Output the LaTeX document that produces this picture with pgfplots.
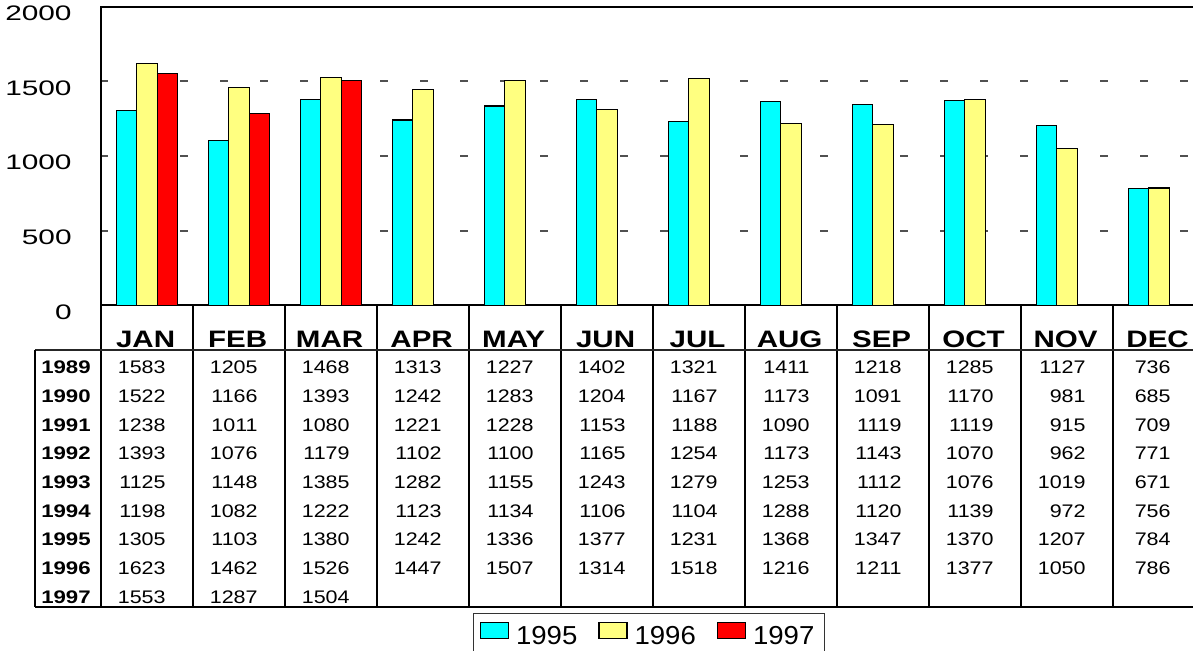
\documentclass[border=0pt]{standalone}
\usepackage{fontspec}
\setmainfont{Liberation Sans}
\usepackage{pgfplots}
\pgfplotsset{compat=1.18}
\newfontfamily\tickfamily[FakeStretch=1.42]{Liberation Sans}
\newfontfamily\monthfamily[FakeStretch=1.24]{Liberation Sans}
\newfontfamily\numfamily[FakeStretch=1.18]{Liberation Sans}
\newfontfamily\yearfamily[FakeStretch=1.22]{Liberation Sans}
\newfontfamily\legfamily[FakeStretch=1.06]{Liberation Sans}
\definecolor{cyanbar}{RGB}{0,255,255}
\definecolor{yelbar}{RGB}{255,255,128}
\definecolor{redbar}{RGB}{255,0,0}
\definecolor{gridc}{RGB}{80,80,80}
\pgfplotsset{mylegend/.style={legend image code/.code={\draw[##1, line width=0.6pt] (0pt,-1pt) rectangle (14pt,7pt);}}}
\begin{document}
\begin{tikzpicture}
\useasboundingbox (0,0) rectangle (596.5pt,325.5pt);
\clip (0,0) rectangle (596.5pt,325.5pt);
\begin{axis}[
 at={(50.5pt,172.85pt)}, anchor=south west,
 scale only axis, width=552pt, height=149.2pt,
 xmin=-0.5, xmax=11.5, ymin=0, ymax=2000,
 ybar=0pt, bar width=10.2pt,
 xtick={0,...,11},
 xticklabels={JAN,FEB,MAR,APR,MAY,JUN,JUL,AUG,SEP,OCT,NOV,DEC},
 xticklabel style={font=\monthfamily\bfseries\fontsize{11.9pt}{12pt}\selectfont, anchor=base, inner sep=0pt, yshift=-21.35pt, xshift=-0.7pt},
 ytick={0,500,1000,1500,2000},
 yticklabels={0,500,1000,1500,2000},
 yticklabel style={font=\tickfamily\fontsize{10.5pt}{11pt}\selectfont, anchor=east, inner sep=0pt, xshift=-14.5pt, yshift=-3.3pt},
 major tick length=0pt,
 tick style={draw=none},
 ymajorgrids,
 grid style={gridc, line width=1pt, dash pattern=on 4pt off 16pt, dash phase=0.5pt},
 axis line style={black, line width=0.9pt},
 clip=false,
 legend columns=3,
 legend style={at={(0.3372,-1.0322)}, anchor=north west, draw=black!80, line width=0.6pt,
   inner ysep=4pt, inner xsep=3pt,
   font=\legfamily\fontsize{13pt}{14pt}\selectfont,
   /tikz/every odd column/.append style={column sep=1.5pt},
   /tikz/every even column/.append style={column sep=8.5pt}},
]
\addplot[fill=cyanbar, draw=black, line width=0.6pt, mylegend] coordinates {(0,1305) (1,1103) (2,1380) (3,1242) (4,1336) (5,1377) (6,1231) (7,1368) (8,1347) (9,1370) (10,1207) (11,784)};
\addplot[fill=yelbar, draw=black, line width=0.6pt, mylegend] coordinates {(0,1623) (1,1462) (2,1526) (3,1447) (4,1507) (5,1314) (6,1518) (7,1216) (8,1211) (9,1377) (10,1050) (11,786)};
\addplot[fill=redbar, draw=black, line width=0.6pt, mylegend] coordinates {(0,1553) (1,1287) (2,1504)};
\legend{1995,1996,1997\hspace{2.5pt}}
\end{axis}
\begin{scope}[yshift=325.5pt, x=0.5pt, y=-0.5pt]
\draw[line width=0.8pt] (101,305.3) -- (101,607);
\foreach \k in {1,...,11} \draw[line width=0.8pt] ({101+92*\k},305.3) -- ({101+92*\k},607);
\draw[line width=0.9pt, black!85] (35,350) -- (1200,350);
\draw[line width=0.8pt] (35,607) -- (1200,607);
\draw[line width=0.8pt] (35,350) -- (35,607);
\foreach \yr/\py/\vals in {
 1989/367.5/{1583,1205,1468,1313,1227,1402,1321,1411,1218,1285,1127,736},
 1990/395.8/{1522,1166,1393,1242,1283,1204,1167,1173,1091,1170,981,685},
 1991/425.3/{1238,1011,1080,1221,1228,1153,1188,1090,1119,1119,915,709},
 1992/453.7/{1393,1076,1179,1102,1100,1165,1254,1173,1143,1070,962,771},
 1993/482.5/{1125,1148,1385,1282,1155,1243,1279,1253,1112,1076,1019,671},
 1994/510.8/{1198,1082,1222,1123,1134,1106,1104,1288,1120,1139,972,756},
 1995/539.5/{1305,1103,1380,1242,1336,1377,1231,1368,1347,1370,1207,784},
 1996/567.8/{1623,1462,1526,1447,1507,1314,1518,1216,1211,1377,1050,786},
 1997/597.3/{1553,1287,1504}}{
  \node[font=\yearfamily\bfseries\fontsize{9.1pt}{10pt}\selectfont, inner sep=0pt] at (66,\py) {\yr};
  \foreach \v [count=\i from 0] in \vals {
     \pgfmathsetmacro\xx{\i==11 ? 1171 : 166+92*\i}
     \node[font=\numfamily\fontsize{9.1pt}{10pt}\selectfont, anchor=east, inner sep=0pt] at (\xx,\py) {\v};
  }
}
\end{scope}
\end{tikzpicture}
\end{document}
